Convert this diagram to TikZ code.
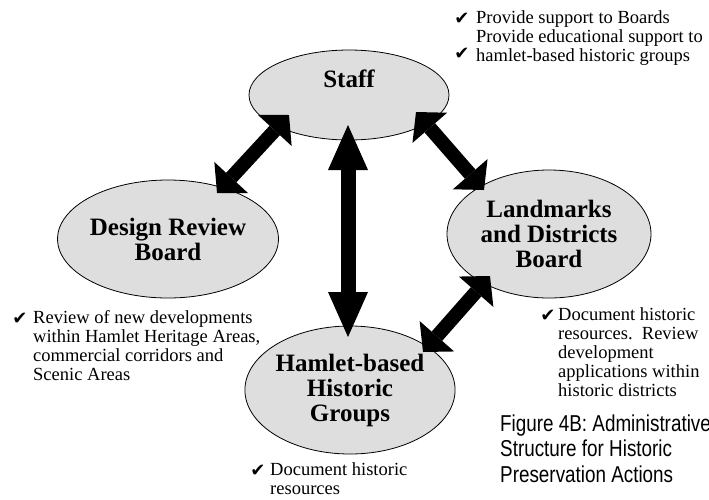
\documentclass[tikz,border=0pt]{standalone}
\usepackage{fontspec}
\setmainfont{Liberation Serif}
\newfontfamily\capfont[FakeStretch=0.82]{Liberation Sans}
\newfontfamily\chkfont{DejaVu Sans}
\usetikzlibrary{shapes.geometric,arrows.meta}

\begin{document}
\begin{tikzpicture}[x=1pt,y=-1pt,
body/.style={ellipse,draw=black,line width=0.8pt,fill=black!13,inner sep=0pt,align=center,
font=\fontsize{25}{25}\selectfont\bfseries},
note/.style={anchor=north west,align=left,inner sep=0pt,font=\fontsize{18.5}{19}\selectfont},
tick/.style={anchor=base,inner sep=0pt,font=\chkfont\fontsize{18}{18}\selectfont},
longarr/.style={<->,>={Triangle[length=45pt,width=40pt,line width=0pt]},line width=15pt},
shortarr/.style={<->,>={Triangle[length=21pt,width=46pt,line width=0pt]},line width=14pt}]
\useasboundingbox (0,0) rectangle (709,499);

\node[body,minimum width=200pt,minimum height=90pt,text height=16pt,text depth=32pt](staff) at (349,95){Staff};
\node[body,minimum width=194pt,minimum height=118pt](drb) at (168,239){Design Review\\Board};
\node[body,minimum width=204pt,minimum height=128pt](ldb) at (549,234){Landmarks\\and Districts\\Board};
\node[body,minimum width=194pt,minimum height=128pt](hbg) at (350,390){Hamlet-based\\Historic\\Groups};

% notes
\node[tick](t1) at (462,24){✔};
\node[tick](t2) at (462,59){✔};
\node[note](staff-note) at (476,10.4){Provide support to Boards\\Provide educational support to\\hamlet-based historic groups};

\node[tick](t3) at (20,324){✔};
\node[note](drb-note) at (33,310.4){Review of new developments\\within Hamlet Heritage Areas,\\commercial corridors and\\Scenic Areas};

\node[tick](t4) at (548,321){✔};
\node[note](ldb-note) at (558,307.4){Document historic\\resources.\ \ Review\\development\\applications within\\historic districts};

\node[tick](t5) at (258,476){✔};
\node[note](hbg-note) at (270,462.4){Document historic\\resources};

\node[anchor=north west,align=left,inner sep=0pt,font=\capfont\fontsize{23}{25.5}\selectfont](caption) at (500,414.2){Figure 4B: Administrative\\Structure for Historic\\Preservation Actions};

\begin{scope}
\draw[shortarr] ([shift={(-60,20)}]staff.center)--([shift={(49,-46)}]drb.center);
\draw[shortarr] ([shift={(67,17)}]staff.center)--([shift={(-65,-44)}]ldb.center);
\draw[longarr] ([shift={(-1,30)}]staff.center)--([shift={(-2,-53)}]hbg.center);
\draw[shortarr] ([shift={(-59,42)}]ldb.center)--([shift={(73,-38)}]hbg.center);
\end{scope}
\end{tikzpicture}
\end{document}
